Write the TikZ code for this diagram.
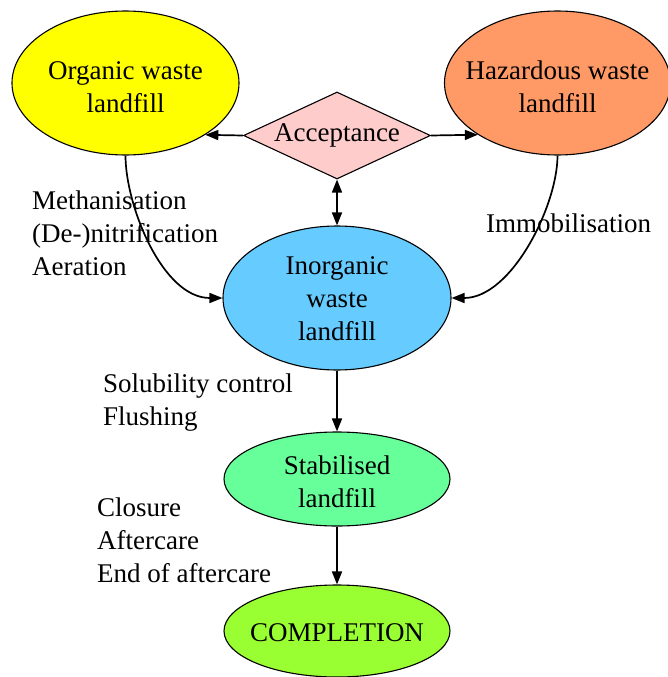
\documentclass[tikz,border=0pt]{standalone}
\usepackage{fontspec}
\setmainfont{Liberation Serif}
\usetikzlibrary{shapes.geometric,arrows.meta}
\definecolor{orgY}{HTML}{FFFF00}
\definecolor{hazO}{HTML}{FF9966}
\definecolor{accP}{HTML}{FFCCCC}
\definecolor{inoB}{HTML}{66CCFF}
\definecolor{stabG}{HTML}{66FF99}
\definecolor{compG}{HTML}{99FF33}
\begin{document}
\begin{tikzpicture}[x=1pt,y=-1pt,
  every node/.style={font=\fontsize{27}{33}\selectfont},
  every label/.style={align=center,inner sep=0pt},
  blob/.style={ellipse,draw=black,line width=1.1pt,inner sep=0pt},
  tip/.tip={Triangle[length=13pt,width=10pt]},
  arr/.style={line width=1.7pt,-tip},
  lbl/.style={align=left,anchor=base west,inner sep=0pt}]
\useasboundingbox (0,0) rectangle (667,677);

\node[blob,fill=orgY,minimum width=227pt,minimum height=144pt,
  label={[yshift=-4pt]center:Organic waste\\landfill}] (org) at (125.5,83) {};
\node[blob,fill=hazO,minimum width=226pt,minimum height=144pt,
  label={[yshift=-4pt]center:Hazardous waste\\landfill}] (haz) at (557.5,83) {};
\node[diamond,draw=black,line width=1.1pt,fill=accP,inner sep=0pt,aspect=2.15,minimum width=187pt,minimum height=87pt] (acc) at (337,135.5) {Acceptance};
\node[blob,fill=inoB,minimum width=228pt,minimum height=144pt,
  label={[yshift=-1pt]center:Inorganic\\waste\\landfill}] (ino) at (337,298) {};
\node[blob,fill=stabG,minimum width=226pt,minimum height=94pt,
  label={[yshift=-3pt]center:Stabilised\\landfill}] (stab) at (337,479) {};
\node[blob,fill=compG,minimum width=226pt,minimum height=92pt,
  label={[yshift=-2pt]center:COMPLETION}] (comp) at (337,631) {};

\draw[arr] (acc.west) -- (org.-33.7);
\draw[arr] (acc.east) -- (haz.213.7);
\draw[line width=1.7pt,tip-tip] (acc.south) -- (ino.north);
\draw[arr] (org.south) .. controls +(0,50) and +(-60,0) .. (ino.west);
\draw[arr] (haz.south) .. controls +(0,50) and +(60,0) .. (ino.east);
\draw[arr] (ino.south) -- (stab.north);
\draw[arr] (stab.south) -- (comp.north);

\node[lbl] (l1) at (32,275) {Methanisation\\(De-)nitrification\\Aeration};
\node[lbl] (l2) at (486,232) {Immobilisation};
\node[lbl] (l3) at (103,425) {Solubility control\\Flushing};
\node[lbl] (l4) at (97,582) {Closure\\Aftercare\\End of aftercare};
\end{tikzpicture}
\end{document}
